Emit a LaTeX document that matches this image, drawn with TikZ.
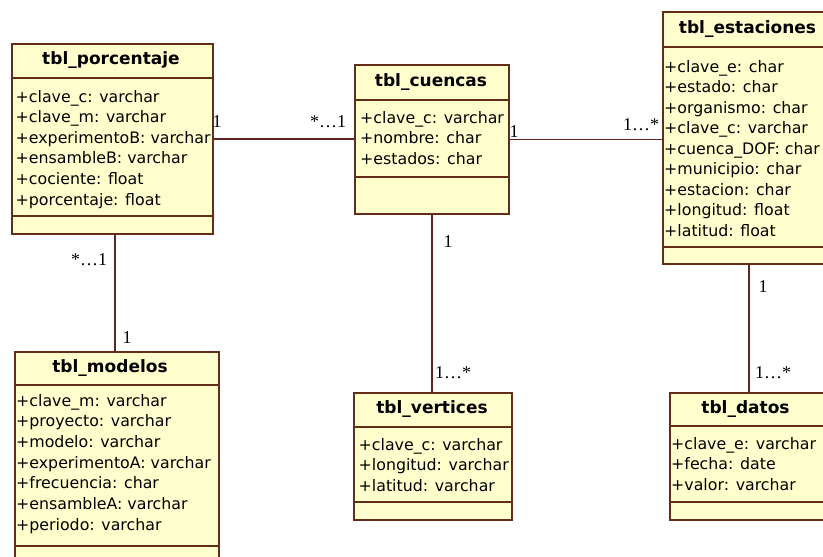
\documentclass[tikz,border=0pt]{standalone}
\usepackage{fontspec}
\setmainfont{DejaVu Sans}
\newfontfamily\multfont{Liberation Serif}
\usetikzlibrary{positioning}

\definecolor{classfill}{RGB}{255,255,206}
\definecolor{classline}{RGB}{100,45,25}
\definecolor{linkline}{RGB}{95,35,35}

\begin{document}
\begin{tikzpicture}[x=1pt, y=-1pt]
\tikzset{
  classbox/.style={draw=classline, fill=classfill, line width=1.8pt, inner sep=0pt, anchor=north west},
  classtitle/.style={font=\fontsize{17}{20}\selectfont\bfseries, inner sep=0pt},
  attr/.style={font=\fontsize{15.8}{20}\selectfont, inner sep=0pt, anchor=base west},
  sepline/.style={draw=classline, line width=1.4pt},
  link/.style={draw=linkline, line width=1.3pt},
  mult/.style={font=\multfont\fontsize{18}{20}\selectfont, inner sep=0pt},
}

\fill[white] (0,0) rectangle (823,557);
\useasboundingbox (0,0) rectangle (823,557);
\clip (0,0) rectangle (823,557);

%% tbl_porcentaje
\node [classbox, minimum width=201pt, minimum height=190pt] (porc) at (11,43) {};
\draw [sepline] (11,78) -- (212,78);
\draw [sepline] (11,216) -- (212,216);
\node [classtitle] (porc-title) at (111,60.5) {tbl\_porcentaje};
\foreach \a [count=\i] in {+clave\_c: varchar, +clave\_m: varchar, +experimentoB: varchar,
    +ensambleB: varchar, +cociente: float, +porcentaje: float}
  \node [attr] (porc-a\i) at (15.5, 81.4+20.6*\i) {\a};

%% tbl_cuencas
\node [classbox, minimum width=154pt, minimum height=149pt] (cuenc) at (354,64) {};
\draw [sepline] (354,100) -- (508,100);
\draw [sepline] (354,177) -- (508,177);
\node [classtitle] (cuenc-title) at (431,82) {tbl\_cuencas};
\foreach \a [count=\i] in {+clave\_c: varchar, +nombre: char, +estados: char}
  \node [attr] (cuenc-a\i) at (360, 102.4+20.6*\i) {\a};

%% tbl_estaciones
\node [classbox, minimum width=172pt, minimum height=252pt] (estac) at (662,11) {};
\draw [sepline] (662,47) -- (834,47);
\draw [sepline] (662,247) -- (834,247);
\node [classtitle] (estac-title) at (747.5,29) {tbl\_estaciones};
\foreach \a [count=\i] in {+clave\_e: char, +estado: char, +organismo: char, +clave\_c: varchar,
    +cuenca\_DOF: char, +municipio: char, +estacion: char, +longitud: float, +latitud: float}
  \node [attr] (estac-a\i) at (664, 51.5+20.5*\i) {\a};

%% tbl_modelos
\node [classbox, minimum width=204pt, minimum height=215pt] (model) at (14,351) {};
\draw [sepline] (14,385) -- (218,385);
\draw [sepline] (14,546) -- (218,546);
\node [classtitle] (model-title) at (110,368) {tbl\_modelos};
\foreach \a [count=\i] in {+clave\_m: varchar, +proyecto: varchar, +modelo: varchar,
    +experimentoA: varchar, +frecuencia: char, +ensambleA: varchar, +periodo: varchar}
  \node [attr] (model-a\i) at (16, 385.3+20.7*\i) {\a};

%% tbl_vertices
\node [classbox, minimum width=158pt, minimum height=127pt] (vert) at (353,392) {};
\draw [sepline] (353,427) -- (511,427);
\draw [sepline] (353,502) -- (511,502);
\node [classtitle] (vert-title) at (432,409.5) {tbl\_vertices};
\foreach \a [count=\i] in {+clave\_c: varchar, +longitud: varchar, +latitud: varchar}
  \node [attr] (vert-a\i) at (358.5, 429.5+20.5*\i) {\a};

%% tbl_datos
\node [classbox, minimum width=158pt, minimum height=127pt] (datos) at (669,392) {};
\draw [sepline] (669,426) -- (827,426);
\draw [sepline] (669,502) -- (827,502);
\node [classtitle] (datos-title) at (745.5,409) {tbl\_datos};
\foreach \a [count=\i] in {+clave\_e: varchar, +fecha: date, +valor: varchar}
  \node [attr] (datos-a\i) at (671, 428.5+20.5*\i) {\a};

%% relaciones
\draw [link] (porc.east) -- (porc.east -| cuenc.west);
\draw [link] (cuenc.east) -- (cuenc.east -| estac.west);
\draw [link] ([xshift=2.5pt]porc.south) -- ([xshift=-2pt]model.north);
\draw [link] (cuenc.south) -- (cuenc.south |- vert.north);
\draw [link] (estac.south) -- (estac.south |- datos.north);

%% multiplicidades
\node [mult] (m-pc1) at (217,122) {1};
\node [mult] (m-pc2) at (328,122) {*\ldots1};
\node [mult] (m-ce1) at (514,132) {1};
\node [mult] (m-ce2) at (641,125) {1\ldots*};
\node [mult] (m-cv1) at (448,242) {1};
\node [mult] (m-cv2) at (453,373) {1\ldots*};
\node [mult] (m-ed1) at (763,287) {1};
\node [mult] (m-ed2) at (773,373) {1\ldots*};
\node [mult] (m-pm1) at (89,260) {*\ldots1};
\node [mult] (m-pm2) at (127,338) {1};

\end{tikzpicture}
\end{document}
